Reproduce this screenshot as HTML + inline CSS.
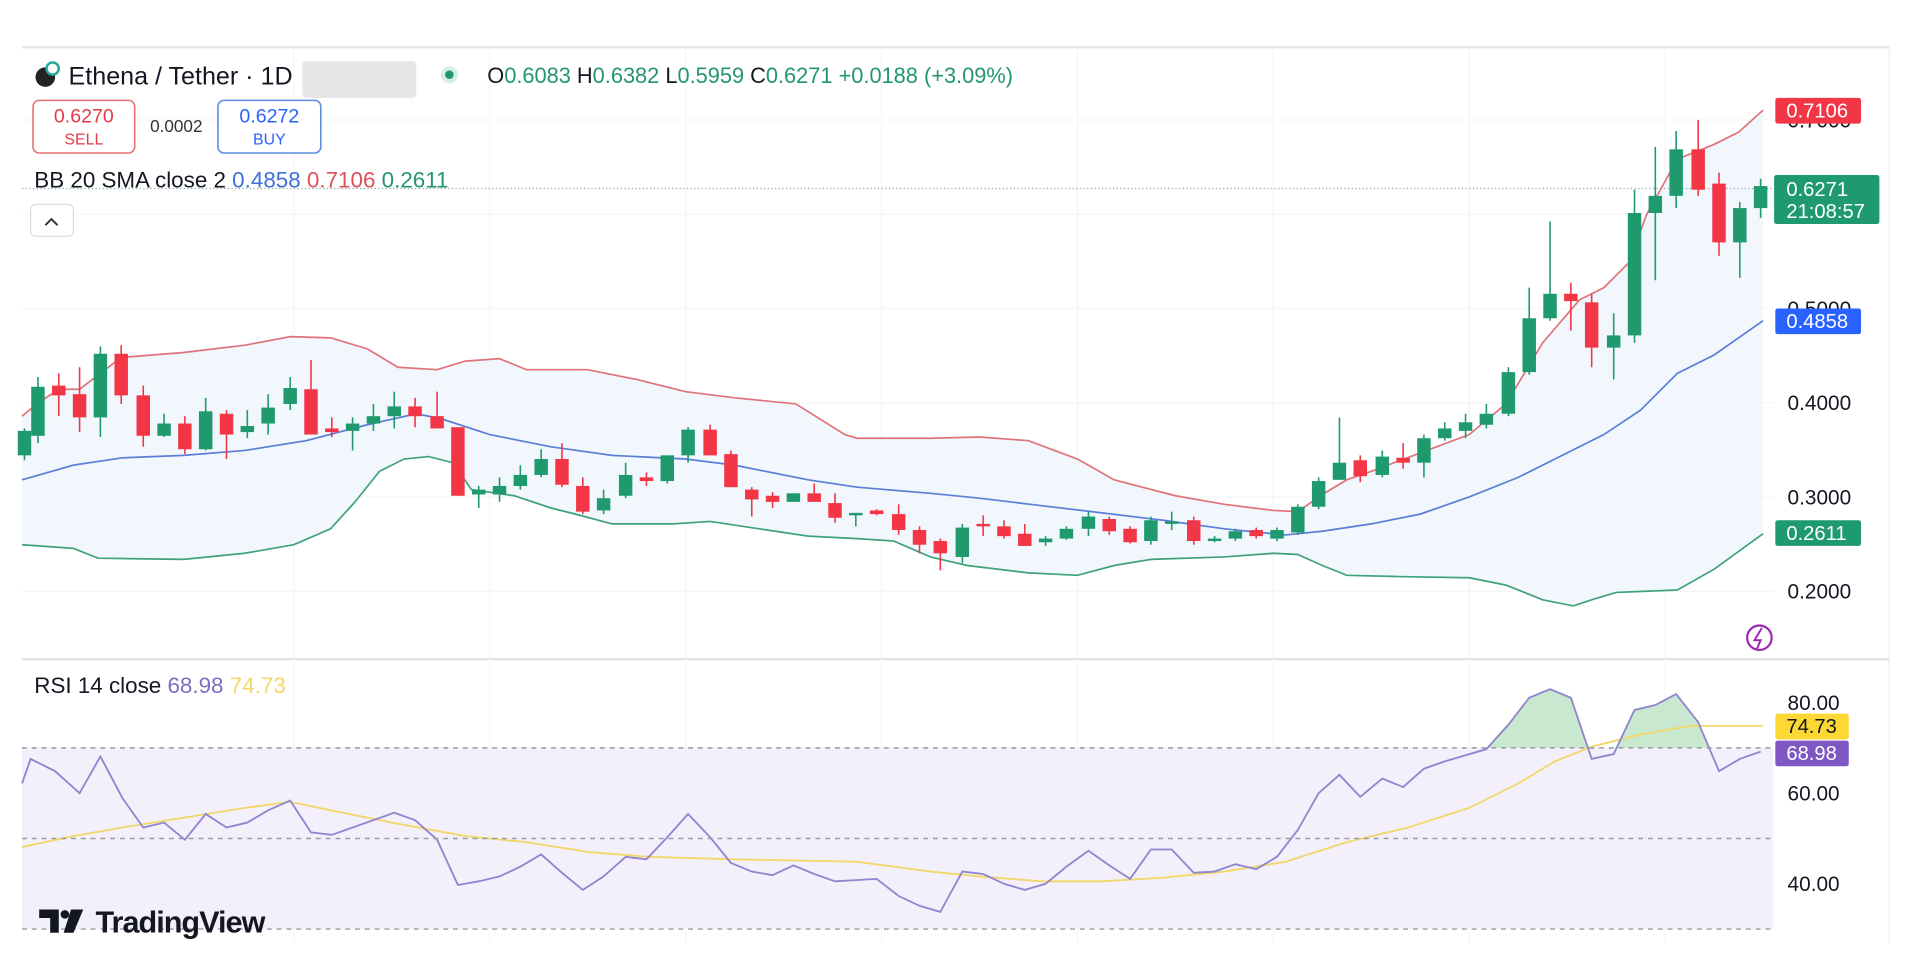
<!DOCTYPE html>
<html><head><meta charset="utf-8"><style>
html,body{margin:0;padding:0;background:#fff;width:1910px;height:956px;overflow:hidden}
svg{display:block}
text{font-family:"Liberation Sans",sans-serif}
</style></head><body>
<svg id="s" width="1910" height="956" viewBox="0 0 1560 781" preserveAspectRatio="none" xmlns="http://www.w3.org/2000/svg">
<rect x="0" y="0" width="1560" height="781" fill="#fff"/>
<line x1="18" y1="38.5" x2="1543" y2="38.5" stroke="#e6e6e6" stroke-width="2"/>
<line x1="1543" y1="38" x2="1543" y2="770" stroke="#eee"/>
<line x1="18" y1="538.5" x2="1543" y2="538.5" stroke="#e3e3e3" stroke-width="2"/>
<g id="grid" stroke="#f4f5f7" stroke-width="1"></g>
<rect x="18" y="611" width="1430" height="148" fill="#f3f0fb"/>
<g id="bb"></g>
<line x1="18" y1="154" x2="1448" y2="154" stroke="#8aa" stroke-width="1" stroke-dasharray="1,2"/>
<g id="candles"></g>
<g id="rsi"></g>
<g stroke="#9a9aa4" stroke-width="1.2" stroke-dasharray="4,4">
<line x1="18" y1="611" x2="1448" y2="611"/><line x1="18" y1="685" x2="1448" y2="685"/><line x1="18" y1="759" x2="1448" y2="759"/>
</g>
<!-- header -->
<circle cx="37" cy="63" r="8" fill="#222"/><circle cx="43" cy="56" r="5" fill="#fff" stroke="#2a9" stroke-width="2"/>
<text x="56" y="69" font-size="20.5" fill="#131722">Ethena / Tether · 1D</text>
<rect x="247" y="50" width="93" height="30" fill="#e6e6e6" rx="3"/>
<circle cx="367" cy="61" r="7" fill="#d5efe6"/><circle cx="367" cy="61" r="3.5" fill="#22966f"/>
<text x="398" y="68" font-size="17.8" fill="#22966f"><tspan fill="#131722">O</tspan>0.6083 <tspan fill="#131722">H</tspan>0.6382 <tspan fill="#131722">L</tspan>0.5959 <tspan fill="#131722">C</tspan>0.6271 +0.0188 (+3.09%)</text>
<rect x="27" y="82" width="83" height="43" rx="5" fill="#fff" stroke="#e57373" stroke-width="1.3"/>
<text x="68.5" y="100" font-size="16" fill="#e53945" text-anchor="middle">0.6270</text>
<text x="68.5" y="118" font-size="13" fill="#e53945" text-anchor="middle">SELL</text>
<text x="144" y="108" font-size="14" fill="#333" text-anchor="middle">0.0002</text>
<rect x="178" y="82" width="84" height="43" rx="5" fill="#fff" stroke="#5a8ee0" stroke-width="1.3"/>
<text x="220" y="100" font-size="16" fill="#2962ff" text-anchor="middle">0.6272</text>
<text x="220" y="118" font-size="13" fill="#2962ff" text-anchor="middle">BUY</text>
<text x="28" y="153" font-size="18.3" fill="#131722">BB 20 SMA close 2 <tspan fill="#3f6fd8">0.4858</tspan> <tspan fill="#e0505a">0.7106</tspan> <tspan fill="#22966f">0.2611</tspan></text>
<rect x="25" y="167" width="35" height="26" rx="4" fill="#fff" stroke="#ddd"/>
<path d="M37 184 L42 179 L47 184" fill="none" stroke="#333" stroke-width="1.6"/>
<!-- axis -->
<g font-size="17" fill="#131722">
<text x="1460" y="335">0.4000</text><text x="1460" y="412">0.3000</text><text x="1460" y="489">0.2000</text>
<text x="1460" y="258">0.5000</text><text x="1460" y="104">0.7000</text>
<text x="1460" y="580">80.00</text><text x="1460" y="654">60.00</text><text x="1460" y="728">40.00</text>
</g>
<rect x="1450" y="80" width="70" height="21" rx="2" fill="#f23645"/><text x="1459" y="96" font-size="16.5" fill="#fff">0.7106</text>
<rect x="1449" y="143" width="86" height="40" rx="2" fill="#1e9a6e"/><text x="1459" y="160" font-size="16.5" fill="#fff">0.6271</text><text x="1459" y="178" font-size="16.5" fill="#fff">21:08:57</text>
<rect x="1450" y="252" width="70" height="21" rx="2" fill="#2962ff"/><text x="1459" y="268" font-size="16.5" fill="#fff">0.4858</text>
<rect x="1450" y="425" width="70" height="21" rx="2" fill="#1e9a6e"/><text x="1459" y="441" font-size="16.5" fill="#fff">0.2611</text>
<rect x="1450" y="583" width="60" height="21" rx="2" fill="#fdd835"/><text x="1459" y="599" font-size="16.5" fill="#131722">74.73</text>
<rect x="1450" y="605" width="60" height="21" rx="2" fill="#7e57c2"/><text x="1459" y="621" font-size="16.5" fill="#fff">68.98</text>
<circle cx="1437" cy="521" r="10" fill="none" stroke="#9c27b0" stroke-width="1.8"/>
<path d="M1439 513 L1433 523 L1438 523 L1435 530" fill="none" stroke="#9c27b0" stroke-width="1.6"/>
<text x="28" y="566" font-size="18.3" fill="#131722">RSI 14 close <tspan fill="#7e6fc2">68.98</tspan> <tspan fill="#f3d86b">74.73</tspan></text>
<!-- TV logo -->
<path d="M32 743 H48 V762 H41 V750 H32 Z" fill="#131722"/>
<circle cx="53" cy="747" r="3.5" fill="#131722"/>
<path d="M58 743 H68 L60 762 H52 Z" fill="#131722"/>
<text x="78" y="762" font-size="25" font-weight="bold" fill="#131722" letter-spacing="-0.8">TradingView</text>
</svg>
<script>
var NS="http://www.w3.org/2000/svg";
function el(p,t,a){var e=document.createElementNS(NS,t);for(var k in a)e.setAttribute(k,a[k]);p.appendChild(e);return e;}
var g=document.getElementById('grid');
[98,175,252,329,406,483].forEach(function(y){el(g,'line',{x1:18,x2:1448,y1:y,y2:y});});
[240,400,560,720,880,1040,1200,1360].forEach(function(x){el(g,'line',{x1:x,x2:x,y1:40,y2:770});});
function P(a){return a.map(function(p){return p[0]+','+p[1]}).join(' ');}
var up=[[18,340],[30,330],[48,318],[65,318],[82,305],[99,292],[150,288],[200,282],[237,275],[270,276],[300,285],[325,300],[357,302],[380,295],[408,293],[430,302],[480,302],[520,310],[560,320],[600,325],[650,330],[690,355],[700,358],[760,358],[800,357],[840,360],[880,375],[910,392],[960,405],[1000,412],[1040,417],[1060,418],[1080,404],[1100,392],[1120,385],[1160,370],[1200,355],[1230,330],[1260,280],[1290,245],[1310,235],[1330,215],[1345,175],[1370,130],[1400,118],[1420,108],[1440,90]];
var mid=[[18,392],[60,380],[100,374],[150,372],[200,368],[250,360],[300,347],[340,338],[360,342],[400,355],[450,365],[500,372],[560,375],[600,380],[660,392],[700,398],[760,403],[800,407],[850,413],[900,419],[950,425],[1000,432],[1050,437],[1080,434],[1120,428],[1160,420],[1200,406],[1240,390],[1280,370],[1310,355],[1340,335],[1370,305],[1400,290],[1440,262]];
var lo=[[18,445],[60,448],[80,456],[150,457],[200,452],[240,445],[270,432],[290,410],[310,385],[330,375],[350,373],[370,378],[385,400],[420,405],[450,415],[470,420],[500,428],[550,428],[580,426],[620,432],[660,438],[700,440],[730,442],[760,455],[790,462],[840,468],[880,470],[910,462],[940,457],[1000,455],[1040,452],[1060,453],[1080,462],[1100,470],[1140,471],[1200,472],[1230,478],[1260,490],[1285,495],[1300,490],[1320,484],[1370,482],[1400,465],[1440,436]];
var bb=document.getElementById('bb');
el(bb,'polygon',{points:P(up.concat(lo.slice().reverse())),fill:'#f1f7fd'});
el(bb,'polyline',{points:P(up),fill:'none',stroke:'#e0737a','stroke-width':1.4});
el(bb,'polyline',{points:P(mid),fill:'none',stroke:'#5b7fd6','stroke-width':1.4});
el(bb,'polyline',{points:P(lo),fill:'none',stroke:'#3fa27a','stroke-width':1.4});
var C=[[20,'g',352,372,350,376],[31,'g',316,356,308,362],[48,'r',315,323,305,340],[65,'r',322,341,300,353],[82,'g',289,341,283,357],[99,'r',289,323,282,330],[117,'r',323,356,315,365],[134,'g',346,356,338,357],[151,'r',346,367,340,371],[168,'g',336,367,325,368],[185,'r',338,355,335,375],[202,'g',348,353,335,358],[219,'g',333,346,322,355],[237,'g',317,330,308,335],[254,'r',318,355,294,355],[271,'r',350,353,341,357],[288,'g',346,352,341,368],[305,'g',340,346,330,352],[322,'g',332,340,320,350],[339,'r',332,340,325,349],[357,'r',340,350,320,349],[374,'r',349,405,349,405],[391,'g',400,404,397,415],[408,'g',397,404,390,410],[425,'g',388,397,380,400],[442,'g',375,388,367,390],[459,'r',375,396,362,398],[476,'r',397,418,390,420],[493,'g',407,417,400,420],[511,'g',388,405,378,407],[528,'r',390,393,386,397],[545,'g',372,393,372,395],[562,'g',351,372,349,378],[580,'r',351,372,347,372],[597,'r',371,398,368,398],[614,'r',400,408,398,422],[631,'r',405,410,402,415],[648,'g',403,410,403,410],[665,'r',403,410,395,410],[682,'r',411,423,403,427],[699,'g',419,421,419,430],[716,'r',417,420,416,421],[734,'r',420,433,412,437],[751,'r',433,445,430,452],[768,'r',442,452,440,466],[786,'g',431,455,428,460],[803,'r',428,429,421,438],[820,'r',430,438,425,440],[837,'r',436,446,428,446],[854,'g',440,443,438,446],[871,'g',432,440,430,441],[889,'g',422,432,418,438],[906,'r',424,434,422,437],[923,'r',432,443,430,444],[940,'g',425,442,422,445],[957,'g',426,428,418,433],[975,'r',425,442,422,445],[992,'g',440,442,438,443],[1009,'g',434,440,432,442],[1026,'r',433,438,431,440],[1043,'g',433,440,431,442],[1060,'g',414,435,412,437],[1077,'g',393,414,390,416],[1094,'g',378,392,341,392],[1111,'r',376,389,372,394],[1129,'g',373,388,368,390],[1146,'r',374,378,362,383],[1163,'g',358,378,355,390],[1180,'g',350,358,345,360],[1197,'g',345,352,338,358],[1214,'g',338,347,330,350],[1232,'g',304,338,300,340],[1249,'g',260,304,235,306],[1266,'g',240,260,181,262],[1283,'r',240,246,231,270],[1300,'r',247,284,240,300],[1318,'g',274,284,256,310],[1335,'g',174,274,155,280],[1352,'g',160,174,120,229],[1369,'g',122,160,107,170],[1387,'r',122,155,98,160],[1404,'r',150,198,141,209],[1421,'g',170,198,165,227],[1438,'g',152,170,146,178]];
var cg=document.getElementById('candles');
C.forEach(function(c){var col=c[1]=='g'?'#1e9a6e':'#f23645';
el(cg,'line',{x1:c[0],x2:c[0],y1:c[4],y2:c[5],stroke:col,'stroke-width':1.3});
el(cg,'rect',{x:c[0]-5.5,y:c[2],width:11,height:Math.max(2,c[3]-c[2]),fill:col});});
var R=[[18,640],[25,620],[45,630],[65,648],[82,618],[100,652],[117,676],[134,672],[151,686],[168,665],[185,676],[202,672],[219,662],[237,654],[254,680],[271,682],[288,676],[305,670],[322,664],[339,670],[357,686],[374,723],[391,720],[408,716],[425,708],[442,698],[459,713],[476,727],[493,716],[511,700],[528,702],[545,684],[562,665],[580,684],[597,705],[614,712],[631,715],[648,707],[665,714],[682,720],[699,719],[716,718],[734,732],[751,740],[768,745],[786,712],[803,714],[820,722],[837,727],[854,722],[871,708],[889,695],[906,707],[923,718],[940,694],[957,694],[975,713],[992,712],[1009,706],[1026,710],[1043,700],[1060,678],[1077,648],[1094,633],[1111,651],[1129,636],[1146,643],[1163,628],[1180,622],[1197,617],[1214,612],[1232,592],[1249,570],[1266,563],[1283,570],[1300,620],[1318,616],[1335,580],[1352,576],[1369,567],[1387,590],[1404,630],[1421,620],[1438,614]];
var M=[[18,692],[60,683],[100,676],[150,668],[200,660],[237,655],[270,662],[320,672],[380,683],[430,688],[480,696],[530,700],[600,702],[700,704],[760,712],[800,716],[850,720],[900,720],[950,717],[1000,712],[1050,704],[1100,688],[1150,676],[1200,660],[1240,640],[1270,622],[1300,610],[1340,600],[1380,593],[1440,593]];
var rg=document.getElementById('rsi');
var cp=el(rg,'clipPath',{id:'ob'});el(cp,'rect',{x:0,y:540,width:1560,height:71});
el(rg,'polygon',{points:P(R)+' 1438,611 18,611','fill':'#c8e8cf','clip-path':'url(#ob)'});
el(rg,'polyline',{points:P(M),fill:'none',stroke:'#f2d76a','stroke-width':1.5});
el(rg,'polyline',{points:P(R),fill:'none',stroke:'#8f86d0','stroke-width':1.5});
</script>
</body></html>
